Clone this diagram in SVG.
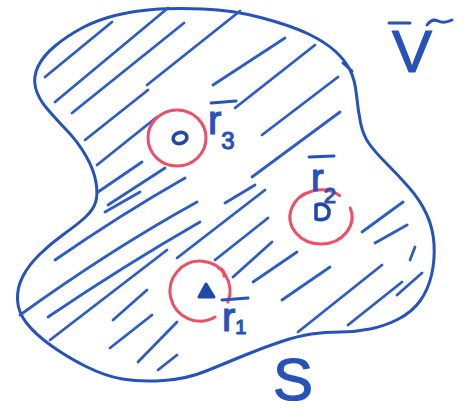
<svg xmlns="http://www.w3.org/2000/svg" width="465" height="414" viewBox="0 0 465 414">
<style>
.b{fill:none;stroke:#2753b8;stroke-width:3;stroke-linecap:round;stroke-linejoin:round}
.h{fill:none;stroke:#2d5cc2;stroke-width:2.8;stroke-linecap:round}
.r{fill:none;stroke:#f04d66;stroke-width:3;stroke-linecap:round}
.d{fill:none;stroke:#1f48a8;stroke-width:3.6;stroke-linecap:round;stroke-linejoin:round}
.t{fill:#2753b8;stroke:#2753b8;stroke-width:1.2;font-family:"Liberation Sans",Arial,sans-serif}
</style>
<rect width="465" height="414" fill="#ffffff"/>
<g id="region">
<path class="b" d="M95.5,202.5 Q98,195 96,182.5 Q94,170 86,156 Q78,142 66.5,130 Q55,118 46.5,108 Q38,98 35.5,87.5 Q33,77 38,66.5 Q43,56 55,46 Q67,36 82,28 Q97,20 115,15.5 Q133,11 153,9.5 Q173,8 203,9 Q233,10 262.5,18 Q292,26 308.5,34 Q325,42 335,51 Q345,60 350,70 Q355,80 356.5,95 Q358,110 360.5,122.5 Q363,135 369,143.5 Q375,152 386.5,163.5 Q398,175 409,187.5 Q420,200 426.5,214 Q433,228 434,244 Q435,260 431.5,275 Q428,290 420,301 Q412,312 398.5,319 Q385,326 370,329 Q355,332 340,332 Q325,332 311.5,334 Q298,336 281.5,341.5 Q265,347 246.5,354.5 Q228,362 207.5,370.5 Q187,379 163.5,380.5 Q140,382 122.5,379 Q105,376 86,366.5 Q67,357 51,345.5 Q35,334 26.5,323 Q18,312 17.5,300 Q17,288 22.5,277 Q28,266 39,255 Q50,244 64,234 Q78,224 85.5,217 Q93,210 95.5,202.5 Z"/>
<path class="b" d="M343,63 L352,71"/>
</g>
<g id="hatching" class="h">
<path d="M45,77 L112,22"/>
<path d="M55,102 L168,8"/>
<path d="M72,113 L184,23"/>
<path d="M147,85 L240,11"/>
<path d="M213,85 L285,38"/>
<path d="M85,140 L148,90"/>
<path d="M97,165 L157,117"/>
<path d="M235,108 L315,45"/>
<path d="M262,135 L338,77"/>
<path d="M252,177 L340,112"/>
<path d="M98,192 L142,162"/>
<path d="M108,205 L165,168"/>
<path d="M105,212 L140,192"/>
<path d="M55,260 Q120,215 185,178"/>
<path d="M20,315 Q110,250 197,202"/>
<path d="M48,317 Q125,265 200,222"/>
<path d="M50,340 L167,250"/>
<path d="M177,258 L265,190"/>
<path d="M215,260 L268,218"/>
<path d="M233,277 L272,242"/>
<path d="M253,282 L297,252"/>
<path d="M282,300 L330,267"/>
<path d="M298,332 L382,265"/>
<path d="M348,325 L402,282"/>
<path d="M397,295 L422,273"/>
<path d="M362,232 L403,202"/>
<path d="M375,243 L407,225"/>
<path d="M410,260 L415,247"/>
<path d="M113,320 L147,290"/>
<path d="M110,348 L152,315"/>
<path d="M138,362 L177,322"/>
<path d="M158,370 L177,355"/>
<path d="M225,203 L255,185"/>
</g>
<g id="point3">
<ellipse class="r" cx="177" cy="138" rx="29" ry="28"/>
<ellipse class="d" cx="180" cy="138" rx="7" ry="5.5" transform="rotate(-15 180 138)"/>
</g>
<g id="point2">
<path class="r" d="M350.2,208 A31,27 0 1 1 339.6,195.4"/>
<path class="d" d="M316,205 L316,219 Q330,222 329,210 Q325,202 316,205 Z"/>
</g>
<g id="point1">
<path class="r" d="M215,317 A30,30 0 1 1 227.8,302.2"/>
<path class="r" d="M219,268 Q225,270 224,276"/>
<path d="M199,297 L214,297 L206,284 Z" fill="#1f48a8" stroke="#1f48a8" stroke-width="3" stroke-linejoin="round"/>
</g>
<g id="label-r3">
<path class="b" d="M211,103 L236,101"/>
<text class="t" x="208" y="134" font-size="40">r<tspan font-size="24" dy="15">3</tspan></text>
</g>
<g id="label-r2">
<path class="b" d="M309,157 L334,156"/>
<text class="t" x="311" y="191" font-size="38">r<tspan font-size="22" dy="12">2</tspan></text>
</g>
<g id="label-r1">
<path class="b" d="M222,300 L248,298"/>
<text class="t" x="222" y="331" font-size="40">r<tspan font-size="20" dy="3">1</tspan></text>
</g>
<g id="label-V">
<path class="b" d="M389,23 L410,23"/>
<path class="b" d="M427,25 Q432,18 438,21 Q444,24 452,20"/>
<text class="t" x="392" y="72" font-size="60">V</text>
</g>
<g id="label-S">
<text class="t" x="273" y="400" font-size="60">S</text>
</g>
</svg>
